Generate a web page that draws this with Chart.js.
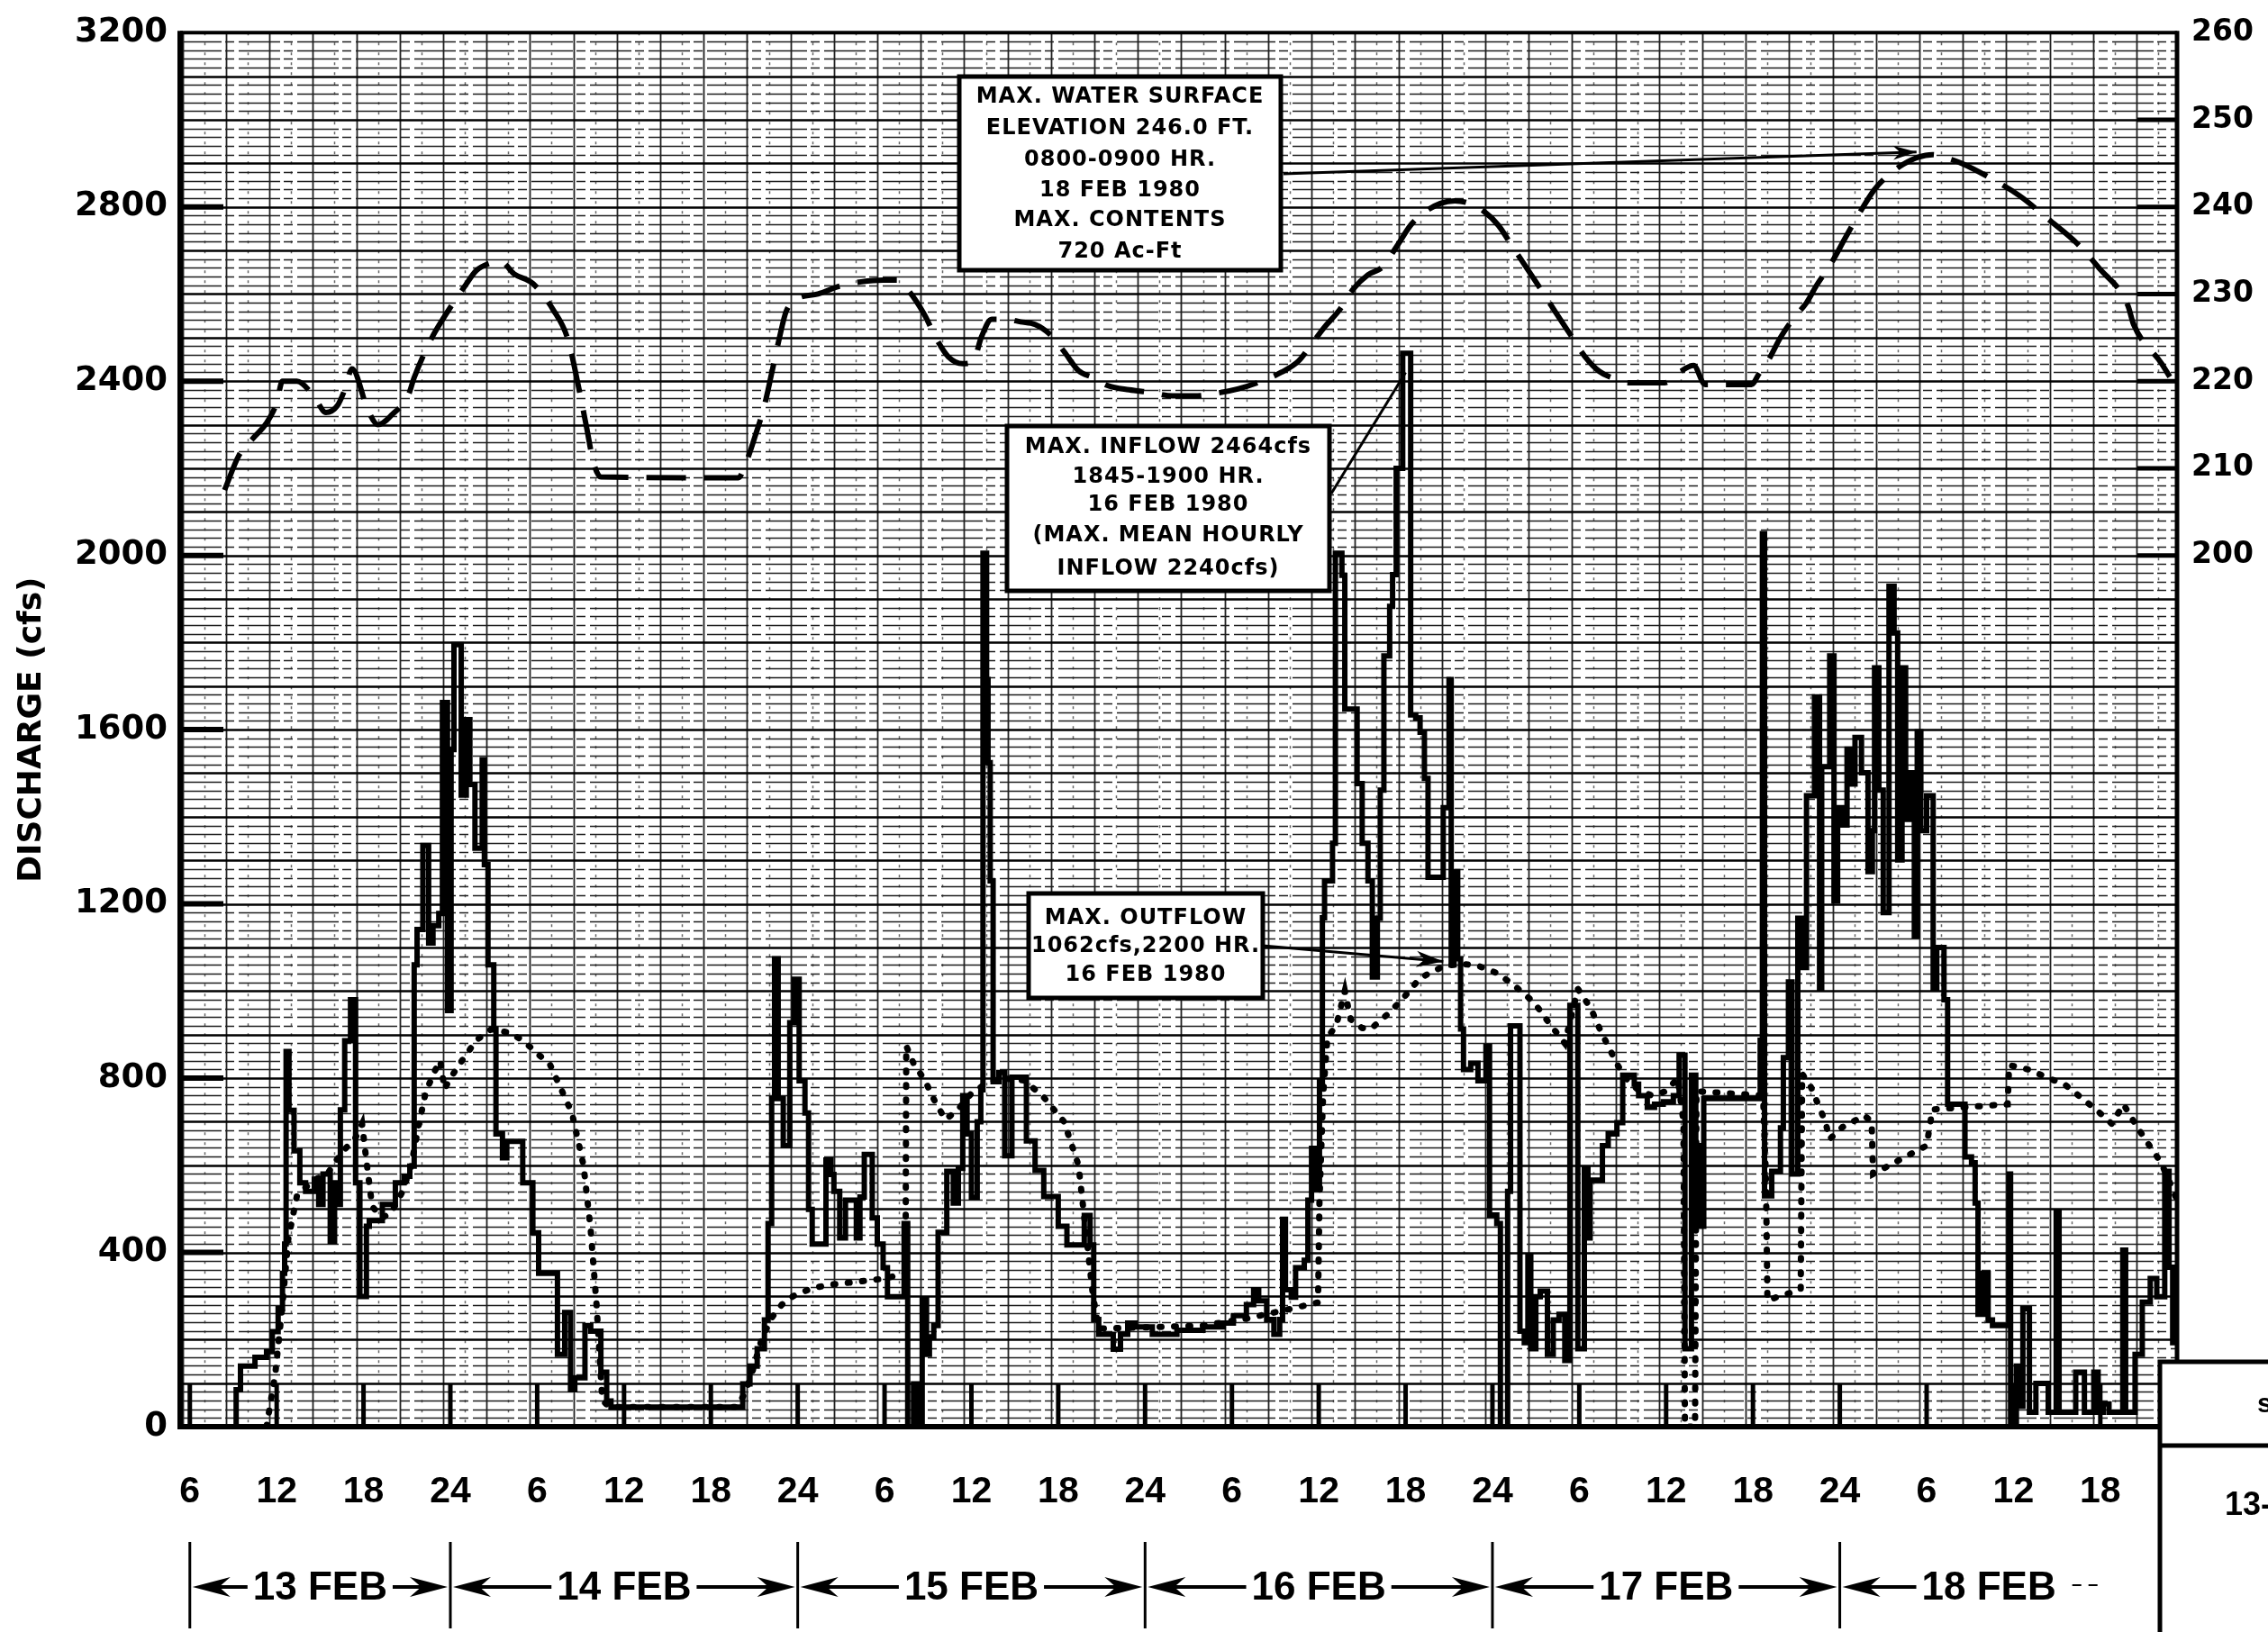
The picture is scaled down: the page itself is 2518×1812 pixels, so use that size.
<!DOCTYPE html>
<html>
<head>
<meta charset="utf-8">
<title>Inflow, outflow and water surface, 13-18 Feb 1980</title>
<script src="https://cdn.jsdelivr.net/npm/chart.js"></script>
<style>
  html, body { margin: 0; padding: 0; background: #fff; }
  canvas { display: block; }
</style>
</head>
<body>
<canvas id="hydro" width="2518" height="1812"></canvas>
<script>
// hours are counted from 13 Feb 1980 00:00
const hourTicks = [6, 12, 18, 24, 30, 36, 42, 48, 54, 60, 66, 72, 78, 84, 90, 96, 102, 108, 114, 120, 126, 132, 138];
const tickLabels = ['6', '12', '18', '24', '6', '12', '18', '24', '6', '12', '18', '24',
                    '6', '12', '18', '24', '6', '12', '18', '24', '6', '12', '18'];
const dayLabels = ['13 FEB', '14 FEB', '15 FEB', '16 FEB', '17 FEB', '18 FEB'];
const dayStarts = [6, 24, 48, 72, 96, 120];
const dayEnds = [24, 48, 72, 96, 120, 144];
const stageTicks = [200, 210, 220, 230, 240, 250, 260];

// inflow, cfs  [hour, value]  (value holds until the next hour)
const inflow = [
  [9.0,0],[9.2,85],[9.5,139],[10.5,159],[11.3,172],[11.7,218],[12.1,271],[12.4,352],[12.55,419],[12.65,861],
  [12.85,726],[13.2,633],[13.6,560],[14.0,540],[14.6,568],[14.9,510],[15.2,580],[15.7,425],[16.0,560],[16.25,510],
  [16.4,727],[16.7,886],[17.1,980],[17.45,560],[17.75,299],[18.2,460],[18.4,473],[19.3,510],[20.2,560],[20.8,575],
  [21.2,598],[21.5,1060],[21.7,1141],[22.1,1334],[22.5,1110],[22.8,1150],[23.2,1178],[23.45,1662],[23.8,955],[24.05,1554],
  [24.25,1795],[24.75,1450],[25.1,1623],[25.35,1474],[25.7,1328],[26.2,1531],[26.35,1290],[26.6,1060],[27.0,913],[27.15,672],
  [27.6,617],[27.9,655],[29.0,560],[29.7,445],[30.1,352],[31.4,166],[31.9,262],[32.3,85],[32.6,112],[33.3,232],
  [33.7,219],[34.4,125],[34.8,59],[35.1,45],[44.2,98],[44.7,139],[45.2,179],[45.7,245],[45.95,466],[46.2,753],
  [46.4,1074],[46.65,753],[47.0,645],[47.45,927],[47.75,1027],[48.1,794],[48.5,720],[48.75,499],[49.0,419],[49.95,612],
  [50.3,579],[50.5,540],[50.9,433],[51.3,520],[52.05,433],[52.3,527],[52.6,625],[53.15,479],[53.5,419],[53.9,365],
  [54.2,298],[55.35,466],[55.6,0],[56.0,98],[56.3,0],[56.6,292],[56.9,166],[57.1,206],[57.4,232],[57.7,446],
  [58.3,586],[58.75,513],[59.1,593],[59.4,760],[59.7,672],[60.0,526],[60.4,700],[60.65,773],[60.8,2005],[61.05,1715],
  [61.15,1524],[61.3,1253],[61.5,792],[61.9,813],[62.3,622],[62.8,802],[63.8,656],[64.4,588],[65.0,528],[66.0,460],
  [66.6,417],[67.8,485],[68.2,417],[68.45,246],[68.8,212],[69.8,178],[70.3,212],[70.8,238],[71.3,229],[72.5,212],
  [74.2,221],[76.0,229],[77.4,238],[78.1,255],[79.0,280],[79.5,314],[79.85,289],[80.4,246],[80.9,212],[81.3,246],
  [81.5,476],[81.7,314],[82.1,297],[82.4,365],[83.0,382],[83.25,520],[83.5,639],[83.75,545],[84.05,792],[84.25,1168],
  [84.4,1253],[84.95,1339],[85.15,2005],[85.6,1954],[85.8,1647],[86.65,1476],[87.0,1339],[87.4,1253],[87.7,1032],[88.05,1167],
  [88.25,1461],[88.5,1769],[88.9,1883],[89.1,1956],[89.35,2200],[89.8,2464],[90.35,1634],[90.7,1627],[91.0,1594],[91.3,1488],
  [91.55,1261],[92.6,1421],[93.0,1715],[93.15,1060],[93.35,1274],[93.6,1074],[93.8,913],[94.0,820],[94.5,834],[95.0,794],
  [95.55,873],[95.8,486],[96.3,466],[96.55,0],[97.05,540],[97.25,920],[97.9,219],[98.2,193],[98.45,392],[98.65,179],
  [99.0,298],[99.3,311],[99.8,166],[100.2,245],[100.6,258],[101.0,152],[101.35,967],[101.9,179],[102.35,592],[102.6,433],
  [102.75,566],[103.6,645],[104.0,672],[104.6,698],[105.0,807],[105.8,786],[106.1,760],[106.7,733],[107.2,740],[107.8,746],
  [108.5,760],[108.9,853],[109.3,179],[109.75,807],[110.05,460],[110.3,645],[110.45,460],[110.6,753],[114.5,887],[114.65,2050],
  [114.8,530],[115.3,586],[115.9,686],[116.1,847],[116.45,1021],[116.7,580],[117.1,1167],[117.45,1054],[117.7,1448],[118.25,1675],
  [118.6,1007],[118.75,1515],[119.3,1769],[119.6,1207],[119.85,1421],[120.2,1381],[120.5,1555],[120.75,1475],[121.05,1582],[121.5,1501],
  [121.95,1274],[122.25,1368],[122.4,1742],[122.7,1461],[123.0,1180],[123.4,1929],[123.75,1822],[124.0,1301],[124.3,1742],[124.55,1394],
  [124.9,1501],[125.15,1127],[125.35,1595],[125.6,1368],[126.0,1448],[126.45,1007],[126.7,1100],[127.2,980],[127.45,740],[128.65,619],
  [129.1,606],[129.35,513],[129.55,258],[129.9,352],[130.25,245],[130.55,232],[131.7,580],[131.8,0],[132.2,139],[132.45,47],
  [132.65,271],[133.1,33],[133.55,99],[134.4,33],[134.95,493],[135.15,33],[136.3,125],[136.9,33],[137.55,125],[137.85,33],
  [138.2,52],[138.6,33],[139.55,405],[139.75,33],[140.4,166],[140.9,286],[141.45,340],[141.9,298],[142.45,586],[142.75,366],
  [143.0,193],[143.3,193]
];

// outflow, cfs
const outflow = [
  [11.3,0],[11.9,120],[12.4,280],[12.8,430],[13.4,530],[14.5,565],[15.5,580],[16.5,630],[17.4,660],[17.9,695],
  [18.2,610],[18.6,505],[19.3,480],[19.9,490],[20.7,540],[21.3,600],[21.8,690],[22.3,768],[22.9,815],[23.3,840],
  [23.6,775],[24.0,800],[24.8,840],[25.8,887],[26.8,912],[28.0,905],[29.0,887],[30.9,830],[32.4,720],[33.2,600],
  [33.7,450],[34.1,280],[34.5,60],[35.0,45],[43.8,45],[44.4,80],[44.9,130],[45.5,200],[46.2,250],[46.9,280],
  [47.7,300],[49.0,318],[50.3,326],[52.0,332],[54.0,340],[55.45,352],[55.5,874],[56.0,834],[56.8,794],[57.5,745],
  [58.2,705],[59.0,725],[60.0,765],[60.9,785],[62.0,800],[63.6,795],[64.9,760],[66.4,700],[67.4,600],[67.9,450],
  [68.4,300],[68.8,225],[72.0,228],[76.0,232],[79.0,248],[82.0,270],[83.95,285],[84.05,520],[84.3,760],[84.6,894],
  [85.2,920],[85.8,1000],[86.2,935],[87.0,915],[87.6,913],[88.7,945],[89.75,980],[91.0,1030],[92.7,1058],[94.0,1062],
  [95.0,1058],[96.4,1040],[97.6,1010],[98.9,973],[99.9,927],[101.0,880],[101.9,1005],[102.8,960],[103.4,914],[104.0,873],
  [104.7,827],[105.2,800],[106.0,775],[107.0,760],[108.0,770],[108.8,800],[109.2,700],[109.3,0],[110.0,0],[110.1,770],
  [114.7,760],[114.9,560],[115.0,290],[117.3,315],[117.4,810],[118.0,780],[119.0,700],[119.3,660],[120.2,688],[121.7,714],
  [122.2,700],[122.3,580],[124.0,610],[126.0,645],[126.4,728],[131.6,740],[131.7,830],[133.0,820],[135.6,784],[137.7,728],
  [138.8,695],[139.6,740],[140.5,690],[141.4,645],[142.2,606],[142.8,560],[143.3,520]
];

// water surface elevation, ft
const stage = [
  [8.4,207.5],[9.4,211.5],[10.4,213.5],[11.3,215.2],[12.0,217.5],[12.4,220.0],[13.4,220.0],[14.6,218.2],[15.4,216.4],[16.2,217.2],
  [16.7,219.0],[17.2,221.4],[18.3,216.7],[19.0,215.0],[20.0,216.2],[21.1,218.4],[21.5,220.4],[22.7,224.9],[23.4,226.9],[25.0,230.9],
  [25.8,232.7],[26.7,233.5],[27.5,233.7],[28.4,232.3],[29.7,231.2],[31.1,228.2],[32.1,224.9],[32.9,219.0],[33.4,214.8],[33.9,210.6],
  [34.4,209.0],[43.9,208.9],[44.4,210.5],[45.1,213.9],[45.7,217.2],[46.2,220.9],[46.7,224.7],[47.2,228.0],[47.9,229.4],[49.4,230.0],
  [50.9,230.9],[52.4,231.4],[53.9,231.6],[54.9,231.6],[55.7,230.3],[56.7,227.8],[57.7,224.5],[58.4,222.8],[59.4,222.0],[60.1,222.2],
  [60.7,225.1],[61.4,227.1],[62.4,227.1],[63.4,226.8],[64.4,226.5],[65.4,225.4],[66.4,223.4],[67.4,221.2],[68.4,220.4],[69.4,219.5],
  [70.9,219.0],[72.4,218.7],[73.9,218.3],[75.4,218.3],[76.9,218.6],[78.4,219.1],[79.9,219.9],[81.4,221.0],[82.6,222.3],[83.4,224.0],
  [84.4,226.2],[85.4,228.1],[86.4,230.6],[87.4,232.2],[88.4,233.1],[89.4,235.5],[90.4,238.0],[91.4,239.5],[92.4,240.4],[93.4,240.7],
  [94.4,240.4],[95.4,239.5],[96.4,237.9],[97.4,235.4],[98.4,232.9],[99.4,230.4],[100.4,227.8],[101.4,225.3],[102.4,222.8],[103.4,221.1],
  [104.4,220.3],[105.4,219.8],[107.9,219.8],[108.9,221.0],[109.9,221.8],[110.7,219.6],[113.9,219.6],[114.4,220.8],[115.1,222.5],[115.9,225.0],
  [116.9,227.4],[117.7,229.0],[118.4,231.0],[119.4,233.5],[120.4,236.5],[121.4,239.4],[122.4,242.0],[123.4,243.7],[124.4,244.9],[125.4,245.7],
  [126.4,246.0],[127.4,245.6],[128.4,245.0],[130.4,243.3],[132.4,241.3],[134.4,238.6],[136.4,235.8],[137.9,233.0],[139.9,228.7],[140.3,226.5],
  [142.2,222.1],[142.8,220.5]
];

const noteBoxes = [
  { x: 1065, y: 85, w: 357, h: 215, rows: [108, 143, 178, 212, 245, 280],
    lines: ['MAX. WATER SURFACE', 'ELEVATION 246.0 FT.', '0800-0900 HR.', '18 FEB 1980', 'MAX. CONTENTS', '720 Ac-Ft'] },
  { x: 1118, y: 473, w: 358, h: 183, rows: [497, 530, 561, 595, 632],
    lines: ['MAX. INFLOW 2464cfs', '1845-1900 HR.', '16 FEB 1980', '(MAX. MEAN HOURLY', 'INFLOW 2240cfs)'] },
  { x: 1142, y: 992, w: 260, h: 116, rows: [1020, 1051, 1083],
    lines: ['MAX. OUTFLOW', '1062cfs,2200 HR.', '16 FEB 1980'] }
];

const toPoints = arr => arr.map(([h, v]) => ({ x: h, y: v }));

function seg(ctx, x1, y1, x2, y2) {
  ctx.beginPath();
  ctx.moveTo(x1, y1);
  ctx.lineTo(x2, y2);
  ctx.stroke();
}

// filled arrow head with its tip at (x2, y2), pointing away from (x1, y1)
function head(ctx, x1, y1, x2, y2, len, half) {
  const a = Math.atan2(y2 - y1, x2 - x1);
  const c = Math.cos(a), s = Math.sin(a);
  ctx.beginPath();
  ctx.moveTo(x2, y2);
  ctx.lineTo(x2 - len * c + half * s, y2 - len * s - half * c);
  ctx.lineTo(x2 - len * 0.7 * c, y2 - len * 0.7 * s);
  ctx.lineTo(x2 - len * c - half * s, y2 - len * s + half * c);
  ctx.closePath();
  ctx.fill();
}

// chart paper behind the traces
const paperGrid = {
  id: 'paperGrid',
  beforeDraw(chart) {
    const ctx = chart.ctx;
    ctx.save();
    ctx.fillStyle = '#fff';
    ctx.fillRect(0, 0, chart.width, chart.height);
    ctx.restore();
  },
  beforeDatasetsDraw(chart) {
    const { ctx, chartArea: a, scales: { x, y } } = chart;
    ctx.save();
    ctx.beginPath();
    ctx.rect(a.left, a.top, a.right - a.left, a.bottom - a.top);
    ctx.clip();
    for (let h = 5.5; h < 144; h += 1.5) {
      const px = Math.round(x.getPixelForValue(h)) + 0.5;
      const solid = Math.round((h - 5.5) / 1.5) % 2 === 0;
      ctx.strokeStyle = solid ? '#222' : '#666';
      ctx.lineWidth = solid ? 1.8 : 1.5;
      ctx.setLineDash(solid ? [] : [3, 8]);
      seg(ctx, px, a.top, px, a.bottom);
    }
    for (let v = 20; v < 3200; v += 20) {
      const py = Math.round(y.getPixelForValue(v)) + 0.5;
      const major = v % 100 === 0;
      ctx.strokeStyle = major ? '#000' : '#1e1e1e';
      ctx.lineWidth = major ? 2.6 : 1.7;
      ctx.setLineDash(major ? [] : [46, 4, 10, 5]);
      seg(ctx, a.left, py, a.right, py);
    }
    ctx.restore();
  }
};

// heavy frame and tick marks of the printed form
const frame = {
  id: 'frame',
  afterDatasetsDraw(chart) {
    const { ctx, chartArea: a, scales: { x, y, y2 } } = chart;
    ctx.save();
    ctx.strokeStyle = '#000';
    ctx.setLineDash([]);
    ctx.lineWidth = 4;
    seg(ctx, a.left, a.top, a.right, a.top);
    ctx.lineWidth = 5;
    seg(ctx, a.right, a.top - 2, a.right, a.bottom);
    ctx.lineWidth = 6;
    seg(ctx, a.left, a.top - 2, a.left, a.bottom + 3);
    seg(ctx, a.left - 3, a.bottom, a.right + 2, a.bottom);
    for (let v = 400; v < 3200; v += 400) {
      const py = y.getPixelForValue(v);
      seg(ctx, a.left, py, a.left + 48, py);
    }
    ctx.lineWidth = 5;
    stageTicks.slice(0, -1).forEach(v => {
      const py = y2.getPixelForValue(v);
      seg(ctx, a.right - 44, py, a.right, py);
    });
    hourTicks.forEach(h => {
      const px = x.getPixelForValue(h);
      seg(ctx, px, a.bottom, px, a.bottom - 48);
    });
    ctx.restore();
  }
};

// callout boxes, date row and the clipped table at the lower right
const notes = {
  id: 'notes',
  afterDraw(chart) {
    const { ctx, scales: { x, y, y2 } } = chart;
    ctx.save();
    ctx.strokeStyle = '#000';
    ctx.fillStyle = '#000';
    ctx.setLineDash([]);

    // leader lines
    ctx.lineWidth = 3;
    const t1 = [x.getPixelForValue(125.3), y2.getPixelForValue(246.3)];
    seg(ctx, 1425, 193, t1[0], t1[1]);
    head(ctx, 1425, 193, t1[0], t1[1], 26, 8);
    const t2 = [x.getPixelForValue(90.0), y.getPixelForValue(2420)];
    seg(ctx, 1478, 548, t2[0], t2[1]);
    const t3 = [x.getPixelForValue(92.6), y.getPixelForValue(1068)];
    seg(ctx, 1402, 1050, t3[0], t3[1]);
    head(ctx, 1402, 1050, t3[0], t3[1], 30, 9);

    noteBoxes.forEach(b => {
      ctx.fillStyle = '#fff';
      ctx.fillRect(b.x, b.y, b.w, b.h);
      ctx.lineWidth = 5;
      ctx.strokeRect(b.x, b.y, b.w, b.h);
      ctx.fillStyle = '#000';
      ctx.font = 'bold 24px "DejaVu Sans"';
      ctx.letterSpacing = '1px';
      ctx.textAlign = 'center';
      ctx.textBaseline = 'middle';
      b.lines.forEach((t, i) => ctx.fillText(t, b.x + b.w / 2, b.rows[i]));
    });
    ctx.letterSpacing = '0px';

    // date row
    const rowY = 1762;
    ctx.font = 'bold 44px "Liberation Sans"';
    ctx.textAlign = 'center';
    ctx.textBaseline = 'middle';
    ctx.lineWidth = 3;
    dayStarts.forEach(h => {
      const px = x.getPixelForValue(h);
      seg(ctx, px, 1712, px, 1808);
    });
    dayLabels.forEach((lab, i) => {
      const last = i === dayLabels.length - 1;
      const left = x.getPixelForValue(dayStarts[i]);
      const right = x.getPixelForValue(dayEnds[i]);
      const cx = last ? x.getPixelForValue(dayStarts[i] + 10.3) : (left + right) / 2;
      const w = ctx.measureText(lab).width;
      ctx.fillText(lab, cx, rowY + 2);
      ctx.lineWidth = 4;
      seg(ctx, cx - w / 2 - 6, rowY, left + 30, rowY);
      head(ctx, cx, rowY, left + 3, rowY, 42, 11);
      if (!last) {
        seg(ctx, cx + w / 2 + 6, rowY, right - 30, rowY);
        head(ctx, cx, rowY, right - 3, rowY, 42, 11);
      } else {
        ctx.lineWidth = 2;
        ctx.setLineDash([10, 8]);
        seg(ctx, cx + w / 2 + 18, rowY - 2, cx + w / 2 + 52, rowY - 2);
        ctx.setLineDash([]);
      }
    });

    // corner of the summary table
    ctx.fillStyle = '#fff';
    ctx.fillRect(2398, 1512, 140, 320);
    ctx.lineWidth = 5;
    ctx.strokeRect(2398, 1512, 160, 330);
    seg(ctx, 2398, 1605, 2518, 1605);
    ctx.fillStyle = '#000';
    ctx.textAlign = 'left';
    ctx.font = 'bold 30px "Liberation Sans"';
    ctx.fillText('s', 2506, 1560);
    ctx.font = 'bold 36px "Liberation Sans"';
    ctx.fillText('13-', 2470, 1672);
    ctx.restore();
  }
};

const labelFont = { family: 'DejaVu Sans', weight: 'bold', size: 37 };

new Chart(document.getElementById('hydro'), {
  type: 'line',
  data: {
    datasets: [
      { label: 'Inflow', data: toPoints(inflow), yAxisID: 'y', stepped: true,
        borderColor: '#000', borderWidth: 6, pointRadius: 0, borderJoinStyle: 'miter' },
      { label: 'Outflow', data: toPoints(outflow), yAxisID: 'y',
        borderColor: '#000', borderWidth: 7, borderDash: [2, 14], borderCapStyle: 'round', pointRadius: 0 },
      { label: 'Water surface elevation', data: toPoints(stage), yAxisID: 'y2',
        borderColor: '#000', borderWidth: 6, borderDash: [44, 20], pointRadius: 0,
        cubicInterpolationMode: 'monotone' }
    ]
  },
  options: {
    responsive: false,
    animation: false,
    devicePixelRatio: 1,
    layout: { padding: { top: 34, left: 0, right: 0, bottom: 0 } },
    plugins: { legend: { display: false }, tooltip: { enabled: false } },
    scales: {
      x: {
        type: 'linear', min: 5.33, max: 143.3,
        afterBuildTicks: s => { s.ticks = hourTicks.map(v => ({ value: v })); },
        afterFit: s => { s.height = 228; },
        grid: { display: false, drawTicks: false },
        border: { display: false },
        ticks: {
          autoSkip: false, maxRotation: 0, minRotation: 0, padding: 48, color: '#000',
          font: { family: 'Liberation Sans', weight: 'bold', size: 41 },
          callback: (v, i) => tickLabels[i]
        }
      },
      y: {
        position: 'left', min: 0, max: 3200,
        afterFit: s => { s.width = 200; },
        grid: { display: false, drawTicks: false },
        border: { display: false },
        ticks: { stepSize: 400, padding: 14, color: '#000', font: labelFont, callback: v => String(v) },
        title: {
          display: true, text: 'DISCHARGE (cfs)', color: '#000',
          font: { family: 'DejaVu Sans', weight: 'bold', size: 36 },
          padding: { top: 14, bottom: 0 }
        }
      },
      y2: {
        position: 'right', min: 100, max: 260,
        afterFit: s => { s.width = 101; },
        afterBuildTicks: s => { s.ticks = stageTicks.map(v => ({ value: v })); },
        grid: { display: false, drawTicks: false },
        border: { display: false },
        ticks: { padding: 16, color: '#000', font: { family: 'DejaVu Sans', weight: 'bold', size: 33 },
                 callback: v => String(v) }
      }
    }
  },
  plugins: [paperGrid, frame, notes]
});
</script>
</body>
</html>
